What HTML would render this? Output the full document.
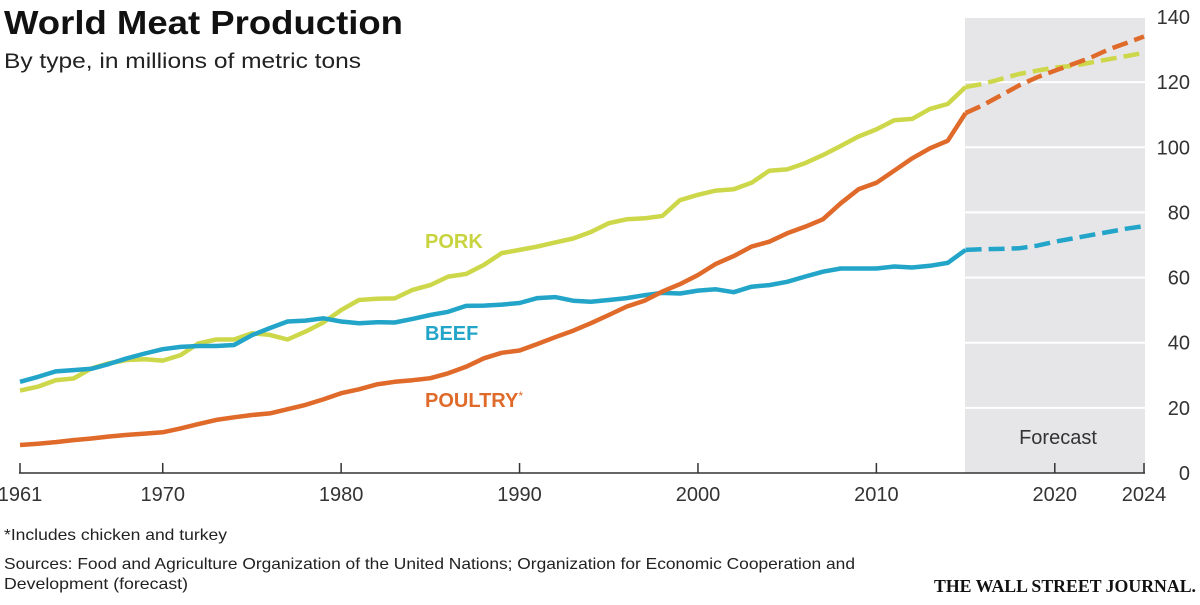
<!DOCTYPE html>
<html><head><meta charset="utf-8"><style>
body{margin:0;background:#fff;width:1200px;height:600px;overflow:hidden;font-family:"Liberation Sans",sans-serif;}
svg text{font-family:"Liberation Sans",sans-serif;}
</style></head><body>
<svg id="chart" width="1200" height="600" xmlns="http://www.w3.org/2000/svg">
<text x="4" y="34" font-size="33" font-weight="bold" fill="#111" textLength="399" lengthAdjust="spacingAndGlyphs">World Meat Production</text>
<text x="4" y="68" font-size="21" fill="#222" textLength="357" lengthAdjust="spacingAndGlyphs">By type, in millions of metric tons</text>
<rect x="965" y="17" width="180" height="456" fill="#e6e6e8"/>
<g id="grid"></g>
<text x="1058" y="444" font-size="20" fill="#333" text-anchor="middle">Forecast</text>
<g id="lines"></g>
<line x1="19" y1="473" x2="1145" y2="473" stroke="#333" stroke-width="1.5"/>
<g id="ticks"></g>
<text x="425" y="248" font-size="20" font-weight="bold" fill="#c8d43f">PORK</text>
<text x="425" y="340" font-size="20" font-weight="bold" fill="#22a5c8">BEEF</text>
<text x="425" y="407" font-size="20" font-weight="bold" fill="#df6a2a">POULTRY<tspan font-size="12" font-weight="normal" dy="-7">*</tspan></text>
<text x="4" y="540" font-size="16" fill="#222" textLength="223" lengthAdjust="spacingAndGlyphs">*Includes chicken and turkey</text>
<text x="4" y="569" font-size="16" fill="#222" textLength="851" lengthAdjust="spacingAndGlyphs">Sources: Food and Agriculture Organization of the United Nations; Organization for Economic Cooperation and</text>
<text x="4" y="589" font-size="16" fill="#222" textLength="184" lengthAdjust="spacingAndGlyphs">Development (forecast)</text>
<text x="1196" y="592" font-size="18" font-weight="bold" fill="#111" text-anchor="end" style="font-family:'Liberation Serif',serif" textLength="262" lengthAdjust="spacingAndGlyphs">THE WALL STREET JOURNAL.</text>
</svg>
<script>
const startYear = 1961;
const endYear = 2024;
const forecastStartYear = 2014;
const porkHist = [25.3,26.5,28.5,29,32.1,33.7,34.7,34.9,34.5,36.2,39.8,41,41,42.9,42.4,41,43.4,46.2,50,53.1,53.5,53.6,56.2,57.7,60.3,61.1,63.9,67.5,68.5,69.5,70.8,72,74,76.7,77.9,78.2,78.9,83.8,85.4,86.7,87.1,89.1,92.8,93.2,95.1,97.6,100.4,103.3,105.5,108.3,108.7,111.8,113.3,118.5];
const beefHist = [28,29.5,31.2,31.6,32,33.5,35.2,36.7,38,38.7,39,39,39.3,42.3,44.5,46.5,46.8,47.5,46.5,46,46.3,46.2,47.3,48.5,49.5,51.3,51.4,51.7,52.2,53.7,54,52.9,52.6,53.1,53.7,54.6,55.3,55.1,56,56.4,55.5,57.2,57.7,58.7,60.3,61.8,62.8,62.8,62.8,63.4,63.1,63.6,64.5,68.5];
const poultryHist = [8.6,9,9.5,10.1,10.6,11.2,11.7,12.1,12.5,13.7,15,16.3,17.1,17.8,18.3,19.6,20.9,22.6,24.5,25.7,27.2,28,28.5,29.1,30.6,32.6,35.2,36.9,37.6,39.6,41.7,43.7,46,48.5,51.1,52.9,55.7,58,60.8,64.2,66.6,69.5,71,73.6,75.6,77.9,82.8,87.1,89.1,92.8,96.6,99.7,102,110.5];
const porkForecast = [118.5,119.5,121,122.5,123.5,124.5,125,126,127,128,129];
const beefForecast = [68.5,68.7,68.8,69,69.8,71,72,73,74,75,75.8];
const poultryForecast = [110.5,113,116,119,121.5,123.5,125.5,127.5,130,132,134];
const yTicks = [0,20,40,60,80,100,120,140];
const xTickLabels = ["1961","1970","1980","1990","2000","2010","2020","2024"];
const xTickYears = [1961,1969,1979,1989,1999,2009,2019,2024];

const NS="http://www.w3.org/2000/svg";
const x = yr => 20 + (yr - startYear) * (1144 - 20) / (endYear - startYear);
const y = v => 473 - v * (473 - 17) / 140;
function mk(tag, attrs, parent){const e=document.createElementNS(NS,tag);for(const k in attrs)e.setAttribute(k,attrs[k]);parent.appendChild(e);return e;}
const grid=document.getElementById('grid'), ticks=document.getElementById('ticks'), lines=document.getElementById('lines');
yTicks.forEach(v=>{
  if(v>0){const g=mk('line',{x1:965,x2:1145,y1:y(v),y2:y(v),stroke:'#fff','stroke-width':2},grid);
  
  }
  const t=mk('text',{x:1190,y:y(v)+7,'font-size':20,fill:'#333','text-anchor':'end'},ticks);
  t.textContent=v;
  
  
});
xTickYears.forEach((yr,i)=>{
  const l=mk('line',{x1:x(yr),x2:x(yr),y1:473,y2:463,stroke:'#333','stroke-width':1.5},ticks);
  
  
  const t=mk('text',{x:x(yr),y:501,'font-size':20,fill:'#333','text-anchor':'middle'},ticks);
  t.textContent=xTickLabels[i];
  
  
});
function path(vals, y0){return vals.map((v,i)=>(i?'L':'M')+x(y0+i).toFixed(1)+','+y(v).toFixed(1)).join('');}
const series=[['pork',porkHist,porkForecast,'#cdd74a'],['beef',beefHist,beefForecast,'#22a5c8'],['poultry',poultryHist,poultryForecast,'#df6a2a']];
series.forEach(([n,h,f,c])=>{
  const p=mk('path',{d:path(h,startYear),fill:'none',stroke:c,'stroke-width':4.5,'stroke-linejoin':'round'},lines);
  
  
  const q=mk('path',{d:path(f,forecastStartYear),fill:'none',stroke:c,'stroke-width':4.5,'stroke-dasharray':'16,7'},lines);
  
  
});
</script>
</body></html>
